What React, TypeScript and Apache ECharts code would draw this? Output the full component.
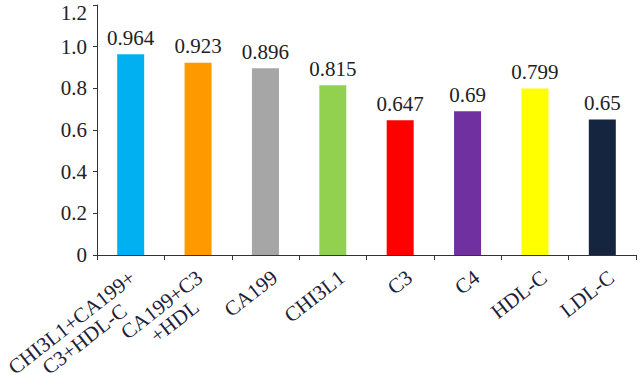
import React, { useEffect, useRef } from "react";
import * as echarts from "echarts";

const categories = ["CHI3L1+CA199+\nC3+HDL-C", "CA199+C3\n+HDL", "CA199", "CHI3L1", "C3", "C4", "HDL-C", "LDL-C"];
const values = [0.964, 0.923, 0.896, 0.815, 0.647, 0.69, 0.799, 0.65];
const valueLabels = ["0.964", "0.923", "0.896", "0.815", "0.647", "0.69", "0.799", "0.65"];
const colors = ["#00B0F0", "#FF9900", "#A6A6A6", "#92D050", "#FF0000", "#7030A0", "#FFFF00", "#15253F"];

const FONT = "Liberation Serif";
const CAT_COLOR = "#1b2238";

export default function App() {
  const ref = useRef<HTMLDivElement>(null);
  useEffect(() => {
    if (!ref.current) return;
    const chart = echarts.init(ref.current, null, { renderer: "svg" });
    const tok = { fontFamily: FONT, fontSize: 21, color: CAT_COLOR, align: "center", lineHeight: 21 };
    chart.setOption({
      animation: false,
      textStyle: { fontFamily: FONT },
      grid: { left: 97, right: 4, top: 5, bottom: 118, containLabel: false, outerBoundsMode: "none" },
      xAxis: {
        type: "category",
        data: categories,
        axisLine: { lineStyle: { color: "#333", width: 1 } },
        axisTick: { show: true, length: 5, lineStyle: { color: "#333" } },
        axisLabel: {
          rotate: 38,
          interval: 0,
          fontFamily: FONT,
          fontSize: 21,
          color: CAT_COLOR,
          margin: 8,
          verticalAlign: "top",
          formatter: (value: string) => {
            const lines = value.split("\n");
            if (lines.length === 1) return `{a|${value}}`;
            return lines.map((l, i) => `{${i === 0 ? "b" : "c"}|${l}}`).join("\n");
          },
          rich: {
            a: { ...tok, padding: [9, 0, 0, 0] },
            b: { ...tok, padding: [0, 6, 0, 0] },
            c: { ...tok, padding: [0, 6, 0, 0] },
          },
        },
      },
      yAxis: {
        type: "value",
        min: 0,
        max: 1.2,
        interval: 0.2,
        splitLine: { show: false },
        axisLine: { show: true, lineStyle: { color: "#333", width: 1 } },
        axisTick: { show: true, length: 4, lineStyle: { color: "#333" } },
        axisLabel: {
          fontFamily: FONT,
          fontSize: 21,
          color: "#222",
          margin: 10,
          formatter: (v: number) => {
            if (v === 0) return "0";
            const s = v.toFixed(1);
            return v >= 1.19 ? `{t|${s}}` : s;
          },
          rich: {
            t: { fontFamily: FONT, fontSize: 21, color: "#222", padding: [16, 0, 0, 0] },
          },
        },
      },
      series: [
        {
          type: "bar",
          barWidth: 27,
          data: values.map((v, i) => ({ value: v, itemStyle: { color: colors[i] } })),
          label: {
            show: true,
            position: "top",
            distance: 6,
            fontFamily: FONT,
            fontSize: 21,
            color: "#222",
            formatter: (p: any) => valueLabels[p.dataIndex],
          },
        },
      ],
    });
    return () => chart.dispose();
  }, []);
  return <div ref={ref} style={{ width: 640, height: 373, position: "absolute", left: 0, top: 0, background: "#fff" }} />;
}
